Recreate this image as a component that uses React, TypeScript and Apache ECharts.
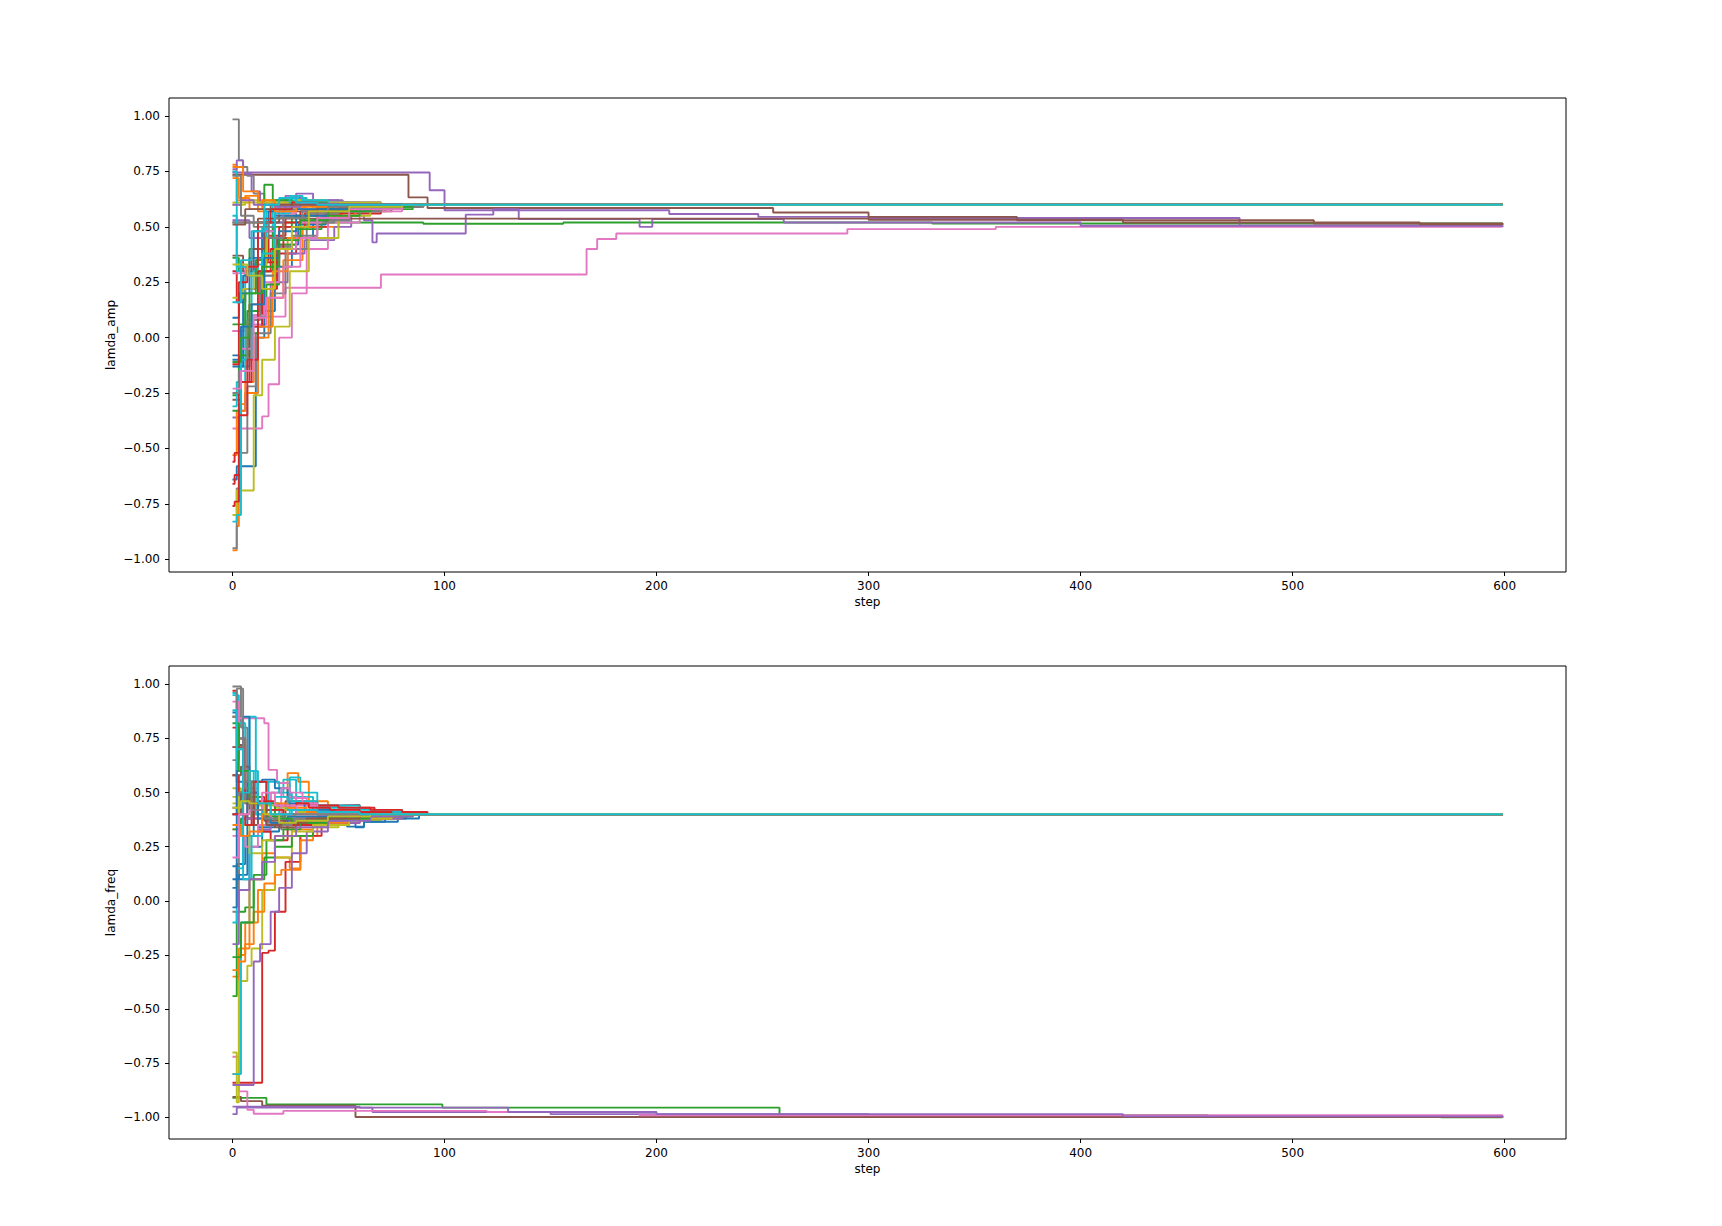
import React, { useEffect, useRef } from "react";
import * as echarts from "echarts";

const STEP_TICKS = [0, 100, 200, 300, 400, 500, 600];
const VALUE_TICKS = [-1, -0.75, -0.5, -0.25, 0, 0.25, 0.5, 0.75, 1];
const TAB10 = ["#1f77b4", "#ff7f0e", "#2ca02c", "#d62728", "#9467bd", "#8c564b", "#e377c2", "#7f7f7f", "#bcbd22", "#17becf"];

type Run = [number, number][];

// lamda_amp runs: breakpoints [step, value] of each step-shaped trace
const AMP_RUNS: Run[] = [
  [[0,-0.08],[3,-0.13],[8,0.05],[14,0.28],[22,0.42],[31,0.51],[44,0.57],[63,0.59],[80,0.60],[599,0.60]],
  [[0,0.78],[2,0.62],[6,0.64],[12,0.57],[20,0.59],[35,0.60],[599,0.60]],
  [[0,0.36],[3,0.30],[8,0.40],[12,0.52],[90,0.514],[156,0.52],[330,0.515],[599,0.51]],
  [[0,0.30],[2,0.16],[6,0.22],[11,0.35],[17,0.46],[25,0.55],[40,0.58],[70,0.59],[85,0.60],[599,0.60]],
  [[0,0.745],[93,0.665],[100,0.575],[206,0.558],[248,0.545],[300,0.54],[475,0.505],[599,0.50]],
  [[0,0.735],[83,0.633],[92,0.585],[255,0.565],[300,0.545],[370,0.53],[510,0.515],[599,0.51]],
  [[0,0.03],[6,0.06],[16,0.095],[25,0.225],[70,0.285],[167,0.40],[172,0.445],[181,0.47],[290,0.49],[360,0.50],[599,0.50]],
  [[0,0.985],[3,0.80],[5,0.77],[7,0.73],[10,0.65],[15,0.60],[22,0.58],[40,0.59],[75,0.60],[599,0.60]],
  [[0,0.61],[8,0.62],[20,0.60],[599,0.60]],
  [[0,0.75],[2,0.30],[6,0.28],[12,0.45],[19,0.62],[28,0.63],[35,0.61],[60,0.60],[599,0.60]],
  [[0,-0.64],[2,-0.58],[11,0.0],[15,0.12],[20,0.32],[28,0.45],[38,0.53],[55,0.58],[78,0.60],[599,0.60]],
  [[0,-0.96],[2,-0.85],[3,-0.30],[6,-0.20],[10,0.0],[17,0.18],[24,0.35],[33,0.50],[50,0.57],[72,0.60],[599,0.60]],
  [[0,-0.26],[3,-0.10],[7,0.12],[13,0.30],[19,0.50],[28,0.55],[40,0.58],[62,0.60],[599,0.60]],
  [[0,-0.66],[1,-0.62],[4,-0.20],[9,0.05],[14,0.22],[21,0.38],[30,0.50],[45,0.56],[70,0.59],[88,0.60],[599,0.60]],
  [[0,-0.36],[3,-0.33],[6,-0.25],[12,0.05],[18,0.25],[26,0.38],[34,0.44],[48,0.50],[56,0.55],[62,0.53],[66,0.43],[68,0.47],[110,0.555],[123,0.58],[135,0.535],[192,0.50],[198,0.535],[260,0.52],[400,0.505],[599,0.50]],
  [[0,-0.28],[4,-0.05],[9,0.10],[15,0.30],[21,0.45],[30,0.52],[45,0.57],[75,0.59],[90,0.60],[599,0.60]],
  [[0,-0.41],[14,-0.355],[17,-0.21],[22,0.0],[28,0.20],[35,0.40],[45,0.52],[60,0.57],[80,0.60],[599,0.60]],
  [[0,-0.95],[2,-0.68],[4,-0.52],[7,-0.22],[11,0.02],[18,0.20],[25,0.40],[35,0.52],[48,0.57],[70,0.59],[85,0.60],[599,0.60]],
  [[0,-0.80],[2,-0.69],[10,-0.26],[14,-0.10],[20,0.05],[27,0.30],[36,0.45],[50,0.55],[65,0.59],[82,0.60],[599,0.60]],
  [[0,-0.31],[2,-0.20],[6,0.30],[10,0.33],[16,0.58],[22,0.61],[30,0.60],[599,0.60]],
  [[0,-0.13],[5,0.28],[10,0.48],[17,0.57],[25,0.61],[45,0.60],[599,0.60]],
  [[0,-0.53],[2,-0.33],[6,-0.25],[12,0.05],[19,0.30],[26,0.45],[33,0.50],[40,0.55],[58,0.58],[80,0.60],[599,0.60]],
  [[0,-0.33],[4,-0.08],[8,0.02],[12,0.10],[16,0.24],[22,0.42],[30,0.49],[42,0.55],[60,0.58],[85,0.60],[599,0.60]],
  [[0,-0.56],[1,-0.52],[3,-0.20],[8,0.15],[14,0.34],[22,0.50],[34,0.56],[52,0.59],[75,0.60],[599,0.60]],
  [[0,0.76],[2,0.80],[5,0.74],[9,0.66],[13,0.60],[25,0.64],[32,0.62],[50,0.61],[70,0.60],[599,0.60]],
  [[0,0.52],[12,0.537],[300,0.532],[420,0.52],[560,0.512],[599,0.51]],
  [[0,0.03],[4,-0.05],[9,0.10],[15,0.25],[22,0.40],[30,0.52],[42,0.57],[65,0.59],[85,0.60],[599,0.60]],
  [[0,-0.25],[3,-0.15],[7,0.08],[13,0.28],[20,0.41],[28,0.46],[40,0.53],[55,0.57],[68,0.58],[78,0.60],[599,0.60]],
  [[0,0.18],[5,0.22],[10,0.30],[16,0.45],[24,0.55],[38,0.59],[60,0.60],[599,0.60]],
  [[0,-0.83],[2,-0.80],[4,-0.10],[9,0.30],[14,0.50],[20,0.58],[28,0.62],[36,0.61],[55,0.60],[599,0.60]],
  [[0,0.09],[3,0.20],[8,0.36],[14,0.48],[20,0.55],[30,0.58],[48,0.60],[599,0.60]],
  [[0,0.77],[5,0.66],[12,0.61],[25,0.60],[599,0.60]],
  [[0,0.06],[6,0.20],[11,0.35],[15,0.69],[19,0.62],[28,0.61],[45,0.60],[599,0.60]],
  [[0,-0.76],[1,-0.74],[3,-0.35],[7,-0.10],[12,0.30],[18,0.40],[24,0.52],[32,0.57],[50,0.59],[70,0.60],[599,0.60]],
  [[0,0.53],[8,0.45],[15,0.52],[24,0.57],[30,0.65],[38,0.62],[52,0.61],[70,0.60],[599,0.60]],
  [[0,0.37],[5,0.30],[9,0.40],[15,0.52],[22,0.57],[40,0.59],[80,0.60],[599,0.60]],
  [[0,0.29],[6,0.32],[12,0.48],[20,0.56],[30,0.60],[599,0.60]],
  [[0,0.52],[10,0.50],[20,0.54],[35,0.56],[50,0.57],[62,0.575],[70,0.58],[80,0.59],[90,0.60],[599,0.60]],
  [[0,0.60],[6,0.61],[30,0.62],[45,0.61],[70,0.60],[599,0.60]],
  [[0,0.55],[2,0.32],[8,0.28],[14,0.38],[20,0.56],[27,0.64],[33,0.62],[45,0.60],[599,0.60]],
  [[0,-0.10],[4,0.05],[9,0.15],[15,0.36],[22,0.48],[30,0.55],[45,0.58],[70,0.60],[599,0.60]],
  [[0,0.72],[3,0.63],[8,0.58],[14,0.62],[20,0.57],[30,0.59],[50,0.60],[599,0.60]],
  [[0,-0.11],[4,0.00],[8,0.20],[14,0.32],[22,0.44],[32,0.53],[45,0.57],[65,0.59],[85,0.60],[599,0.60]],
  [[0,-0.12],[3,0.25],[7,0.32],[12,0.52],[18,0.58],[28,0.61],[40,0.60],[599,0.60]],
  [[0,0.60],[4,0.62],[10,0.60],[20,0.59],[32,0.605],[50,0.60],[599,0.60]],
  [[0,0.51],[6,0.58],[18,0.60],[599,0.60]],
  [[0,-0.23],[4,-0.15],[10,0.09],[16,0.18],[24,0.32],[32,0.45],[40,0.54],[55,0.58],[80,0.60],[599,0.60]],
  [[0,0.73],[4,0.55],[10,0.52],[17,0.45],[24,0.54],[33,0.57],[45,0.59],[70,0.60],[599,0.60]],
  [[0,0.33],[7,0.28],[14,0.22],[20,0.40],[28,0.50],[36,0.57],[55,0.59],[80,0.60],[599,0.60]],
  [[0,0.16],[4,0.35],[9,0.48],[15,0.60],[22,0.63],[30,0.61],[40,0.60],[599,0.60]],
];

// lamda_freq runs
const FREQ_RUNS: Run[] = [
  [[0,0.87],[2,0.55],[5,0.30],[10,0.42],[18,0.36],[30,0.38],[45,0.39],[70,0.40],[599,0.40]],
  [[0,0.33],[5,0.30],[12,0.35],[20,0.42],[26,0.59],[31,0.55],[36,0.46],[45,0.42],[60,0.41],[80,0.40],[599,0.40]],
  [[0,-0.91],[16,-0.94],[99,-0.955],[258,-0.99],[460,-0.995],[570,-1.0],[599,-1.0]],
  [[0,0.97],[2,0.60],[5,0.35],[9,0.48],[15,0.40],[25,0.46],[35,0.44],[51,0.443],[60,0.43],[67,0.41],[83,0.40],[599,0.40]],
  [[0,-0.985],[2,-0.955],[66,-0.975],[150,-0.985],[300,-0.995],[599,-1.0]],
  [[0,-0.905],[4,-0.925],[14,-0.946],[58,-0.998],[599,-1.0]],
  [[0,-0.72],[3,-0.88],[7,-0.965],[10,-0.983],[24,-0.97],[120,-0.975],[192,-0.99],[599,-1.0]],
  [[0,0.99],[4,0.80],[7,0.55],[12,0.38],[20,0.35],[30,0.38],[50,0.39],[75,0.40],[599,0.40]],
  [[0,0.52],[4,0.47],[10,0.45],[22,0.42],[40,0.41],[60,0.40],[599,0.40]],
  [[0,0.95],[3,0.82],[6,0.60],[10,0.40],[18,0.50],[24,0.56],[30,0.48],[38,0.42],[55,0.41],[75,0.40],[599,0.40]],
  [[0,0.16],[3,0.10],[8,0.25],[14,0.32],[22,0.35],[35,0.37],[50,0.36],[58,0.34],[62,0.365],[72,0.38],[82,0.40],[599,0.40]],
  [[0,-0.80],[3,-0.25],[6,-0.10],[12,0.05],[20,0.20],[27,0.15],[32,0.30],[40,0.35],[55,0.38],[75,0.40],[599,0.40]],
  [[0,0.33],[4,0.38],[9,0.42],[16,0.39],[25,0.40],[599,0.40]],
  [[0,-0.84],[14,-0.24],[17,-0.23],[20,-0.05],[25,0.18],[32,0.30],[42,0.36],[60,0.39],[80,0.40],[599,0.40]],
  [[0,-0.95],[60,-0.955],[130,-0.975],[200,-0.985],[420,-0.995],[599,-1.0]],
  [[0,0.85],[3,0.72],[6,0.45],[10,0.35],[16,0.40],[24,0.37],[40,0.39],[65,0.40],[599,0.40]],
  [[0,0.71],[3,0.843],[15,0.82],[17,0.605],[21,0.544],[27,0.475],[35,0.44],[45,0.42],[60,0.41],[80,0.40],[599,0.40]],
  [[0,0.43],[3,0.50],[6,0.45],[10,0.40],[16,0.36],[23,0.33],[30,0.38],[50,0.39],[70,0.40],[599,0.40]],
  [[0,-0.70],[2,-0.93],[3,-0.37],[7,-0.30],[9,-0.22],[14,0.05],[20,0.20],[28,0.30],[38,0.34],[50,0.37],[70,0.39],[85,0.40],[599,0.40]],
  [[0,-0.80],[4,-0.10],[8,0.30],[12,0.55],[17,0.45],[22,0.40],[27,0.57],[32,0.50],[40,0.44],[60,0.42],[80,0.40],[599,0.40]],
  [[0,0.06],[2,0.17],[6,0.30],[12,0.34],[20,0.38],[35,0.36],[54,0.343],[62,0.365],[78,0.38],[88,0.40],[599,0.40]],
  [[0,-0.35],[3,-0.28],[6,-0.20],[10,-0.05],[15,0.08],[20,0.12],[23,0.143],[32,0.28],[38,0.35],[55,0.38],[80,0.40],[599,0.40]],
  [[0,-0.44],[2,-0.05],[6,-0.03],[10,0.10],[15,0.20],[20,0.25],[28,0.30],[38,0.35],[55,0.38],[75,0.40],[599,0.40]],
  [[0,0.58],[3,0.50],[7,0.38],[12,0.32],[18,0.28],[26,0.35],[38,0.38],[55,0.39],[70,0.40],[599,0.40]],
  [[0,-0.85],[10,-0.28],[13,-0.20],[18,-0.05],[22,0.06],[28,0.22],[35,0.32],[45,0.36],[60,0.38],[80,0.40],[599,0.40]],
  [[0,0.40],[4,0.50],[8,0.42],[15,0.37],[25,0.36],[40,0.38],[60,0.40],[599,0.40]],
  [[0,0.92],[3,0.70],[6,0.52],[12,0.45],[18,0.50],[24,0.48],[30,0.44],[40,0.42],[60,0.41],[80,0.40],[599,0.40]],
  [[0,-0.05],[3,0.50],[8,0.45],[14,0.40],[20,0.35],[28,0.37],[45,0.39],[70,0.40],[599,0.40]],
  [[0,0.45],[4,0.46],[10,0.44],[20,0.43],[30,0.41],[50,0.40],[599,0.40]],
  [[0,-0.10],[2,0.15],[5,0.60],[8,0.85],[11,0.40],[16,0.55],[22,0.50],[28,0.46],[40,0.43],[60,0.41],[85,0.40],[599,0.40]],
  [[0,0.10],[3,0.12],[7,0.55],[14,0.56],[20,0.52],[26,0.45],[34,0.42],[48,0.41],[70,0.40],[599,0.40]],
  [[0,-0.32],[3,-0.22],[8,0.10],[14,0.22],[20,0.30],[28,0.33],[38,0.36],[55,0.38],[75,0.40],[599,0.40]],
  [[0,-0.26],[4,-0.10],[10,0.12],[16,0.28],[24,0.33],[32,0.36],[45,0.38],[65,0.39],[85,0.40],[599,0.40]],
  [[0,0.80],[3,0.75],[6,0.50],[12,0.46],[20,0.44],[30,0.45],[40,0.44],[50,0.43],[65,0.42],[80,0.41],[92,0.40],[599,0.40]],
  [[0,0.40],[5,0.38],[12,0.33],[18,0.36],[26,0.38],[40,0.39],[60,0.40],[599,0.40]],
  [[0,0.58],[4,0.62],[8,0.45],[12,0.35],[20,0.34],[30,0.37],[50,0.39],[70,0.40],[599,0.40]],
  [[0,0.30],[6,0.25],[12,0.35],[18,0.40],[23,0.52],[27,0.50],[33,0.45],[40,0.41],[60,0.40],[599,0.40]],
  [[0,0.65],[3,0.75],[6,0.52],[10,0.45],[16,0.42],[24,0.38],[36,0.37],[55,0.39],[75,0.40],[599,0.40]],
  [[0,0.48],[3,0.35],[8,0.22],[14,0.28],[20,0.30],[28,0.32],[38,0.35],[55,0.38],[75,0.40],[599,0.40]],
  [[0,0.96],[2,0.40],[5,0.10],[9,0.30],[14,0.45],[20,0.48],[26,0.42],[38,0.41],[60,0.40],[599,0.40]],
  [[0,-0.03],[2,0.60],[5,0.85],[8,0.50],[12,0.38],[18,0.36],[26,0.39],[45,0.40],[599,0.40]],
  [[0,0.35],[4,0.30],[8,0.32],[14,0.40],[20,0.45],[26,0.43],[35,0.41],[55,0.40],[599,0.40]],
  [[0,0.82],[3,0.60],[8,0.48],[14,0.45],[20,0.38],[28,0.36],[40,0.38],[65,0.40],[599,0.40]],
  [[0,0.40],[6,0.35],[10,0.55],[16,0.42],[24,0.40],[30,0.45],[36,0.43],[46,0.42],[60,0.41],[75,0.40],[599,0.40]],
  [[0,-0.20],[3,0.05],[8,0.10],[14,0.18],[20,0.30],[30,0.34],[45,0.37],[65,0.39],[85,0.40],[599,0.40]],
  [[0,0.71],[5,0.55],[10,0.45],[16,0.35],[23,0.36],[35,0.38],[60,0.40],[599,0.40]],
  [[0,0.20],[3,0.40],[8,0.42],[14,0.50],[20,0.44],[30,0.40],[599,0.40]],
  [[0,0.85],[2,0.98],[5,0.55],[9,0.42],[15,0.38],[22,0.40],[599,0.40]],
  [[0,0.43],[4,0.46],[8,0.45],[15,0.40],[22,0.36],[30,0.37],[45,0.39],[65,0.40],[599,0.40]],
  [[0,0.88],[2,0.70],[5,0.50],[8,0.60],[12,0.45],[18,0.40],[28,0.42],[40,0.41],[60,0.40],[599,0.40]],
];

const FONT = { fontFamily: "DejaVu Sans", fontSize: 12, color: "#000" };

function fmtValue(v: number): string {
  return (v < 0 ? "\u2212" : "") + Math.abs(v).toFixed(2);
}

export default function App() {
  const ref = useRef<HTMLDivElement>(null);
  useEffect(() => {
    if (!ref.current) return;
    const chart = echarts.init(ref.current, null, { renderer: "svg" });

    const xAxis = (gridIndex: number) => ({
      type: "value",
      gridIndex,
      min: -29.95,
      max: 628.95,
      name: "step",
      nameLocation: "middle",
      nameGap: 24,
      nameMoveOverlap: false,
      nameTextStyle: { ...FONT },
      axisLine: { show: false, onZero: false },
      axisTick: { show: true, customValues: STEP_TICKS, length: 4, inside: false, lineStyle: { color: "#000", width: 1 } },
      axisLabel: { show: true, customValues: STEP_TICKS, margin: 8, ...FONT, formatter: (v: number) => String(Math.round(v)) },
      splitLine: { show: false },
    });

    const yAxis = (gridIndex: number, name: string, min: number, max: number) => ({
      type: "value",
      gridIndex,
      min,
      max,
      name,
      nameLocation: "middle",
      nameGap: 52,
      nameMoveOverlap: false,
      nameTextStyle: { ...FONT },
      axisLine: { show: false, onZero: false },
      axisTick: { show: true, customValues: VALUE_TICKS, length: 4, inside: false, lineStyle: { color: "#000", width: 1 } },
      axisLabel: { show: true, customValues: VALUE_TICKS, margin: 9, ...FONT, formatter: (v: number) => fmtValue(v) },
      splitLine: { show: false },
    });

    const mkSeries = (runs: Run[], idx: number) =>
      runs.map((run, i) => ({
        type: "line",
        xAxisIndex: idx,
        yAxisIndex: idx,
        data: run,
        step: "end",
        symbol: "none",
        showSymbol: false,
        silent: true,
        lineStyle: { width: 1.9, color: TAB10[i % 10] },
        itemStyle: { color: TAB10[i % 10] },
        emphasis: { disabled: true },
      }));

    chart.setOption({
      animation: false,
      backgroundColor: "#ffffff",
      textStyle: { fontFamily: "DejaVu Sans" },
      grid: [
        { left: 169, top: 98, width: 1397, height: 474, show: true, borderColor: "#000", borderWidth: 1, backgroundColor: "transparent", containLabel: false },
        { left: 169, top: 666, width: 1397, height: 473, show: true, borderColor: "#000", borderWidth: 1, backgroundColor: "transparent", containLabel: false },
      ],
      xAxis: [xAxis(0), xAxis(1)],
      yAxis: [yAxis(0, "lamda_amp", -1.0575, 1.0815), yAxis(1, "lamda_freq", -1.0997, 1.0845)],
      series: [...mkSeries(AMP_RUNS, 0), ...mkSeries(FREQ_RUNS, 1)],
    });

    return () => chart.dispose();
  }, []);

  return (
    <div
      ref={ref}
      style={{ position: "fixed", left: 0, top: 0, width: 1722, height: 1226, background: "#fff" }}
    />
  );
}
